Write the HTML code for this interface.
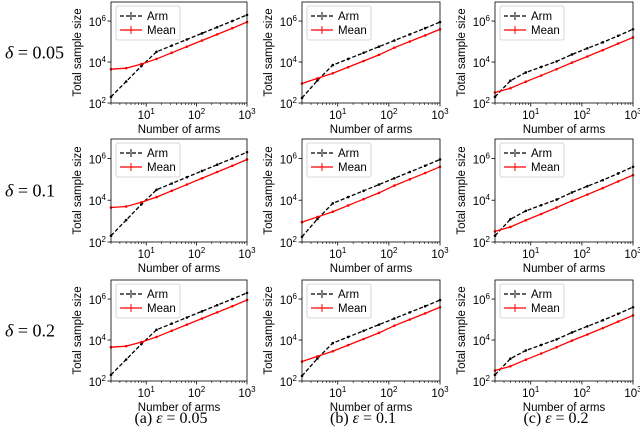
<!DOCTYPE html>
<html><head><meta charset="utf-8"><style>
body{margin:0;background:#fff;width:640px;height:446px;overflow:hidden}
svg{display:block}
</style></head><body>
<svg id="fig" width="640" height="446" xmlns="http://www.w3.org/2000/svg" font-family="'Liberation Sans', sans-serif"></svg>
<script>
const armsX = [2,4,8,16,32,64,128,256,512,1000];
const armA = [2.3,3.05,3.8,4.5,4.8,5.1,5.4,5.7,6.0,6.3];
const meanA = [3.65,3.7,3.9,4.15,4.45,4.75,5.05,5.35,5.65,5.95];
const armB = [2.25,3.1,3.85,4.15,4.45,4.75,5.05,5.35,5.65,5.95];
const meanB = [2.95,3.2,3.45,3.75,4.05,4.35,4.7,5.0,5.3,5.6];
const armC = [2.3,3.09,3.49,3.76,4.03,4.37,4.67,4.96,5.28,5.6];
const meanC = [2.51,2.72,3.04,3.34,3.65,3.97,4.27,4.58,4.9,5.2];
const rowLabels = ["0.05","0.1","0.2"];
const colCaptions = ["(a) ","(b) ","(c) "];
const colEps = ["0.05","0.1","0.2"];
const xTicks = [1,2,3];
const yTicks = [2,4,6];

const NS="http://www.w3.org/2000/svg";
const svg=document.getElementById('fig');
function mk(tag,attrs,parent){const e=document.createElementNS(NS,tag);for(const k in attrs)e.setAttribute(k,attrs[k]);(parent||svg).appendChild(e);return e;}
const cols=[{l:111,r:247,arm:armA,mean:meanA},{l:302,r:440,arm:armB,mean:meanB},{l:495,r:633,arm:armC,mean:meanC}];
const rows=[{t:2,b:103},{t:139,b:242},{t:280,b:381}];
const yMin=2,yMax=6.93,xMinL=Math.log10(2),xMaxL=3;

rows.forEach((rw,ri)=>{
  const rl=mk('text',{x:5,y:(rw.t+rw.b)/2+6,'font-family':"'Liberation Serif', serif",'font-size':18,fill:'#000'});
  
  
  rl.innerHTML='<tspan font-style="italic">δ</tspan> = '+rowLabels[ri];
  cols.forEach((c,ci)=>{
    const g=mk('g',{});
    
    
    const sx=v=>c.l+(Math.log10(v)-xMinL)/(xMaxL-xMinL)*(c.r-c.l);
    const sxl=l=>c.l+(l-xMinL)/(xMaxL-xMinL)*(c.r-c.l);
    const sy=l=>rw.b-(l-yMin)/(yMax-yMin)*(rw.b-rw.t);
    xTicks.forEach(t=>{const x=sxl(t);
      mk('line',{x1:x,x2:x,y1:rw.b,y2:rw.b+3.5,stroke:'#000','stroke-width':0.8},g);
      const tx=mk('text',{x:x,y:rw.b+16,'font-size':11.5,'text-anchor':'middle',fill:'#000'},g);
      
      
      tx.innerHTML='10<tspan dy="-5" font-size="8">'+t+'</tspan>';
    });
    for(let d=0;d<=3;d++)for(let m=2;m<=9;m++){const v=m*Math.pow(10,d);if(v<2||v>1000)continue;const x=sx(v);
      mk('line',{x1:x,x2:x,y1:rw.b,y2:rw.b+2,stroke:'#000','stroke-width':0.6},g);}
    yTicks.forEach(t=>{const y=sy(t);
      mk('line',{x1:c.l-3.5,x2:c.l,y1:y,y2:y,stroke:'#000','stroke-width':0.8},g);
      const tx=mk('text',{x:c.l-5,y:y+5,'font-size':11.5,'text-anchor':'end',fill:'#000'},g);
      
      
      tx.innerHTML='10<tspan dy="-5" font-size="8">'+t+'</tspan>';
    });
    const xl=mk('text',{x:(c.l+c.r)/2,y:rw.b+30,'font-size':11.5,'text-anchor':'middle',fill:'#000'},g);
    
    
    xl.textContent='Number of arms';
    const yc=(rw.t+rw.b)/2, yx=c.l-30;
    const yl=mk('text',{x:yx,y:yc,'font-size':11.5,'text-anchor':'middle',fill:'#000',transform:'rotate(-90 '+yx+' '+yc+')'},g);
    
    
    yl.textContent='Total sample size';
    const mkSeries=(vals,color,dash,name)=>{
      const pts=armsX.map((v,i)=>sx(v).toFixed(2)+','+sy(vals[i]).toFixed(2)).join(' ');
      const pl=mk('polyline',{points:pts,fill:'none',stroke:color,'stroke-width':1.3,'stroke-dasharray':dash},g);
      
      
      armsX.forEach((v,i)=>{const cx=sx(v),cy=sy(vals[i]);
        const p=mk('circle',{cx:cx,cy:cy,r:1.3,fill:color},g);
        
        });
    };
    mkSeries(c.arm,'#000','4,2','arm');
    mkSeries(c.mean,'#f00','none','mean');
    mk('rect',{x:c.l,y:rw.t,width:c.r-c.l,height:rw.b-rw.t,fill:'none',stroke:'#000','stroke-width':0.8},g);
    const lg=mk('g',{},g);
    
    
    const lx=c.l+5,ly=rw.t+4;
    mk('rect',{x:lx,y:ly,width:64,height:34,rx:2,fill:'#fff',stroke:'#ccc','stroke-width':0.8},lg);
    [['Arm','#000','4,2'],['Mean','#f00','none']].forEach((e,i)=>{
      const yy=ly+10+i*14;
      mk('line',{x1:lx+4,x2:lx+26,y1:yy,y2:yy,stroke:e[1],'stroke-width':1.3,'stroke-dasharray':e[2]},lg);
      mk('line',{x1:lx+15,x2:lx+15,y1:yy-4,y2:yy+4,stroke:e[1],'stroke-width':1},lg);
      const t=mk('text',{x:lx+31,y:yy+4,'font-size':11.5,fill:'#000'},lg);
      
      
      t.textContent=e[0];
    });
  });
});
cols.forEach((c,ci)=>{
  const t=mk('text',{x:(c.l+c.r)/2-8,y:423,'font-family':"'Liberation Serif', serif",'font-size':16,'text-anchor':'middle',fill:'#000'});
  
  
  t.innerHTML=colCaptions[ci]+'<tspan font-style="italic">ε</tspan> = '+colEps[ci];
});
</script>
</body></html>
